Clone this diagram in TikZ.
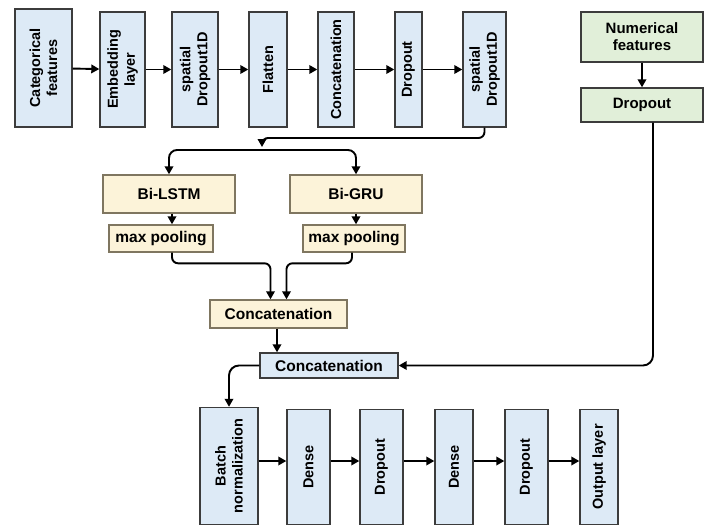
\documentclass[tikz,border=0pt]{standalone}
\usepackage{fontspec}
\setmainfont{Liberation Sans}
\usetikzlibrary{arrows.meta,calc}
\definecolor{bluefill}{HTML}{DDEAF6}
\definecolor{yellowfill}{HTML}{FCF3D9}
\definecolor{greenfill}{HTML}{E1EFD9}
\definecolor{boxline}{HTML}{3C3C3C}
\definecolor{yline}{HTML}{7F7660}
\tikzset{
  base/.style={draw=boxline, line width=1.4pt, inner sep=1pt, align=center},
  vbox/.style 2 args={base, fill=bluefill, rotate=90, minimum width=#2, minimum height=#1,
    font=\fontsize{14.5}{17}\selectfont\bfseries},
  hblue/.style 2 args={base, fill=bluefill, minimum width=#1, minimum height=#2,
    font=\fontsize{15.5}{18}\selectfont\bfseries},
  hyellow/.style 2 args={base, draw=yline, fill=yellowfill, minimum width=#1, minimum height=#2,
    font=\fontsize{15.5}{18}\selectfont\bfseries},
  hgreen/.style 2 args={base, fill=greenfill, minimum width=#1, minimum height=#2,
    font=\fontsize{15}{17}\selectfont\bfseries},
  arr/.style={-{Triangle[length=8pt,width=8.5pt]}, line width=1.9pt, black},
}
\begin{document}
\begin{tikzpicture}[x=1pt,y=-1pt]
\useasboundingbox (0,0) rectangle (704,527);
% top row
\node[vbox={57}{118}] (cat) at (43.5,68) {Categorical\\features};
\node[vbox={45}{115}] (emb) at (122.5,69.5) {Embedding\\layer};
\node[vbox={46}{115}] (sd1) at (195,69.5) {spatial\\Dropout1D};
\node[vbox={38}{115}] (flat) at (268,69.5) {Flatten};
\node[vbox={36}{115}] (conc) at (336,69.5) {Concatenation};
\node[vbox={27}{115}] (drop) at (408.5,69.5) {Dropout};
\node[vbox={43}{115}] (sd2) at (484.5,69.5) {spatial\\Dropout1D};
% green
\node[hgreen={122}{50}] (num) at (642,37) {Numerical\\features};
\node[hgreen={122}{34}] (gdrop) at (642,105) {Dropout};
% middle
\node[hyellow={132}{38}] (bilstm) at (169,194) {Bi-LSTM};
\node[hyellow={132}{38}] (bigru) at (356,194) {Bi-GRU};
\node[hyellow={104}{27}] (mp1) at (161,238.5) {max pooling};
\node[hyellow={102}{27}] (mp2) at (354,238.5) {max pooling};
\node[hyellow={137}{28}] (yconc) at (278.5,314) {Concatenation};
\node[hblue={138}{25}] (bconc) at (329,365.5) {Concatenation};
% bottom row
\node[vbox={58}{117}] (bn) at (229,466) {Batch\\normalization};
\node[vbox={43}{115}] (d1) at (308.5,467) {Dense};
\node[vbox={43}{115}] (dr1) at (381.5,467) {Dropout};
\node[vbox={38}{115}] (d2) at (454,467) {Dense};
\node[vbox={43}{115}] (dr2) at (526.5,467) {Dropout};
\node[vbox={38}{115}] (out) at (599,467) {Output layer};
% helper coordinates
\coordinate (jn) at (262,147);
\coordinate (br) at (262,150);
\coordinate (xa) at (172,0);
\coordinate (xb) at (277,0);
\coordinate (xc) at (653,0);
\coordinate (ya) at (0,461);
% top row arrows
\draw[arr] (cat) -- (emb);
\draw[arr] (emb) -- (sd1);
\draw[arr] (sd1) -- (flat);
\draw[arr] (flat) -- (conc);
\draw[arr] (conc) -- (drop);
\draw[arr] (drop) -- (sd2);
\draw[arr] (num) -- (gdrop);
% split
\draw[arr, rounded corners=6pt] (sd2.west) |- (262,138) -- (jn);
\draw[arr, rounded corners=8pt] (br) -| (bilstm.north);
\draw[arr, rounded corners=8pt] (br) -| (bigru.north);
\draw[arr] (bilstm.south -| xa) -- (mp1.north -| xa);
\draw[arr] (bigru.south) -- (bigru.south |- mp2.north);
\draw[arr, rounded corners=6pt] (mp1.south -| xa) |- ($(yconc.north)+(-8,-36)$) -- ($(yconc.north)+(-8,0)$);
\draw[arr, rounded corners=6pt] ($(mp2.south)+(-2,0)$) |- ($(yconc.north)+(8,-36)$) -- ($(yconc.north)+(8,0)$);
\draw[arr] (yconc.south -| xb) -- (bconc.north -| xb);
\draw[arr, rounded corners=10pt] (gdrop.south -| xc) |- (bconc.east);
\draw[arr, rounded corners=10pt] (bconc.west) -| (bn.east);
% bottom row arrows
\draw[arr] (bn.south |- ya) -- (d1.north |- ya);
\draw[arr] (d1.south |- ya) -- (dr1.north |- ya);
\draw[arr] (dr1.south |- ya) -- (d2.north |- ya);
\draw[arr] (d2.south |- ya) -- (dr2.north |- ya);
\draw[arr] (dr2.south |- ya) -- (out.north |- ya);
\end{tikzpicture}
\end{document}
